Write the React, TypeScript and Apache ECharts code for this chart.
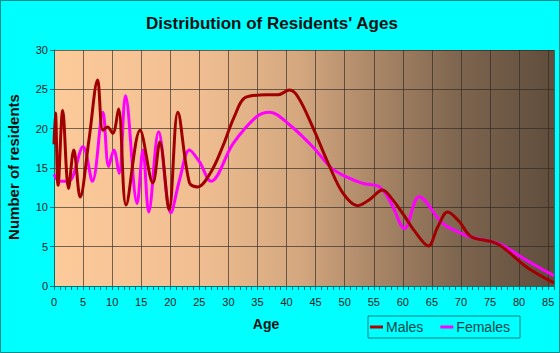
import React, { useEffect, useRef } from "react";
import * as echarts from "echarts";

const title = "Distribution of Residents' Ages";
const xAxisName = "Age";
const yAxisName = "Number of residents";
const seriesNames = ["Males", "Females"];

const malesAges = [0, 0.25, 0.7, 1.5, 2.5, 3.4, 4.5, 6, 7.5, 8.4, 9.2, 10.1, 11.1, 12.4, 14.8, 17, 18.2, 19.8, 21.3, 23.3, 24.7, 27, 29, 31, 33, 36.5, 38.5, 40.5, 42, 44.5, 47.4, 49.7, 52.2, 54.3, 56.5, 58, 60, 62, 64.4, 66, 67.7, 69.7, 71.7, 75.4, 77.1, 81.2, 86];
const malesValues = [18, 22, 12.8, 22.3, 12.4, 17.3, 11.3, 18.5, 26.2, 19.8, 20.2, 19.4, 22.5, 10.3, 19.8, 13.1, 18.3, 9.7, 22.1, 13.1, 12.6, 14.5, 17.7, 21.5, 24, 24.3, 24.3, 24.9, 24, 20.2, 15.2, 11.8, 10.2, 11, 12.2, 11.2, 9.2, 7, 5.1, 7.5, 9.4, 8.2, 6.3, 5.6, 5.0, 2.45, 0.4];

const femalesAges = [0, 1, 2.5, 5, 6.6, 8.4, 9.4, 10.3, 11.2, 12.3, 14.3, 15.3, 16.3, 18, 20.1, 21.6, 23.3, 25, 27, 30.8, 34.8, 37.1, 40.5, 44.5, 47.7, 50.2, 53.1, 56, 58, 60.3, 62.8, 66.8, 69.7, 71.4, 75.4, 77.1, 81.2, 86];
const femalesValues = [14.2, 13.3, 13.3, 17.7, 13.3, 22.1, 15.2, 17.3, 14.3, 24.2, 10.5, 17.3, 9.4, 19.6, 9.3, 13.5, 17.3, 15.8, 13.3, 18.1, 21.5, 22.1, 20.5, 17.7, 15, 13.9, 13.05, 12.6, 10.5, 7.3, 11.35, 8, 6.8, 6.3, 5.6, 5.2, 3.3, 1.3];

const yTicks = [0, 5, 10, 15, 20, 25, 30];

const FONT = "'Liberation Sans', Arial, sans-serif";

function pairs(xs: number[], ys: number[]) {
  return xs.map((x, i) => [x, ys[i]]);
}

export default function App() {
  const ref = useRef<HTMLDivElement>(null);
  useEffect(() => {
    if (!ref.current) return;
    const chart = echarts.init(ref.current, undefined, { renderer: "svg" });
    const bg = new echarts.graphic.LinearGradient(0, 0, 1, 0, [
      { offset: 0, color: "#FDCB9A" },
      { offset: 0.29, color: "#F0BE91" },
      { offset: 0.49, color: "#D4A77F" },
      { offset: 0.65, color: "#A88566" },
      { offset: 0.81, color: "#7E654F" },
      { offset: 1, color: "#5F4D3C" },
    ]);
    chart.setOption({
      animation: false,
      backgroundColor: "#00FFFF",
      grid: {
        left: 54,
        right: 6,
        top: 50,
        bottom: 67,
        show: true,
        backgroundColor: bg,
        borderWidth: 0,
      },
      xAxis: {
        type: "value",
        min: 0,
        max: 86,
        interval: 5,
        axisLine: { show: true, lineStyle: { color: "#007070", width: 1 } },
        axisTick: { show: true, length: 4, lineStyle: { color: "#007070" } },
        minorTick: { show: true, splitNumber: 5, length: 4, lineStyle: { color: "#007070" } },
        axisLabel: {
          color: "#222",
          fontSize: 11,
          fontFamily: FONT,
          margin: 10,
          formatter: (v: number) => (v % 5 === 0 ? String(v) : ""),
        },
        splitLine: { show: true, lineStyle: { color: "rgba(45,40,35,0.65)", width: 1 } },
      },
      yAxis: {
        type: "value",
        min: yTicks[0],
        max: yTicks[yTicks.length - 1],
        interval: 5,
        axisLine: { show: true, lineStyle: { color: "#007070", width: 1 } },
        axisTick: { show: true, length: 4, lineStyle: { color: "#007070" } },
        axisLabel: { color: "#222", fontSize: 11, fontFamily: FONT, margin: 6 },
        splitLine: { show: true, lineStyle: { color: "rgba(45,40,35,0.65)", width: 1 } },
      },
      legend: {
        left: 368,
        top: 316,
        orient: "horizontal",
        borderColor: "#008080",
        borderWidth: 1,
        padding: [4, 10, 4, 2],
        itemGap: 17,
        itemWidth: 13,
        itemHeight: 3,
        icon: "rect",
        textStyle: { fontSize: 14, fontFamily: FONT, color: "#004848", padding: [0, 0, 0, -2] },
        data: seriesNames,
      },
      graphic: [
        {
          type: "rect",
          shape: { x: 0.5, y: 0.5, width: 559, height: 352 },
          style: { fill: "none", stroke: "#008B8B", lineWidth: 1 },
          silent: true,
        },
        {
          type: "text",
          x: 272,
          y: 23,
          style: {
            text: title,
            fontSize: 17,
            fontWeight: "bold",
            fontFamily: FONT,
            fill: "#111",
            align: "center",
            verticalAlign: "middle",
          },
        },
        {
          type: "text",
          x: 266,
          y: 324,
          style: {
            text: xAxisName,
            fontSize: 14,
            fontWeight: "bold",
            fontFamily: FONT,
            fill: "#111",
            align: "center",
            verticalAlign: "middle",
          },
        },
        {
          type: "text",
          x: 13,
          y: 167,
          rotation: Math.PI / 2,
          style: {
            text: yAxisName,
            fontSize: 15,
            fontWeight: "bold",
            fontFamily: FONT,
            fill: "#111",
            align: "center",
            verticalAlign: "middle",
          },
        },
      ],
      series: [
        {
          name: seriesNames[0],
          type: "line",
          smooth: 0.35,
          showSymbol: false,
          symbol: "none",
          lineStyle: { color: "#A00000", width: 3 },
          itemStyle: { color: "#B00000" },
          data: pairs(malesAges, malesValues),
          z: 3,
        },
        {
          name: seriesNames[1],
          type: "line",
          smooth: 0.35,
          showSymbol: false,
          symbol: "none",
          lineStyle: { color: "#FF00FF", width: 3 },
          itemStyle: { color: "#FF00FF" },
          data: pairs(femalesAges, femalesValues),
          z: 2,
        },
      ],
    });
    return () => chart.dispose();
  }, []);
  return (
    <div
      ref={ref}
      style={{ position: "fixed", left: 0, top: 0, width: 560, height: 353 }}
    />
  );
}
